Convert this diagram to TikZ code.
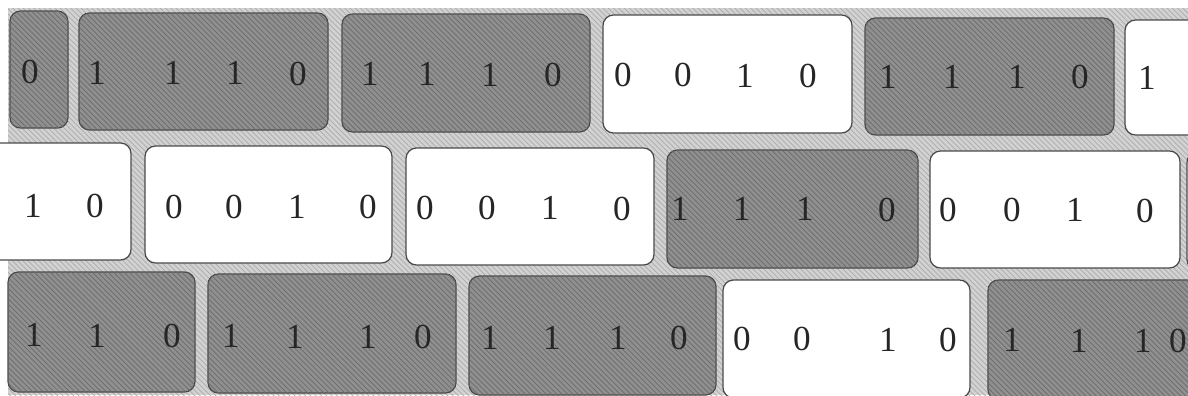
\documentclass[tikz,border=0pt]{standalone}
\usepackage{fontspec}
\setmainfont{Liberation Serif}
\usetikzlibrary{patterns}
\definecolor{bandgray}{HTML}{D2D2D2}
\definecolor{bandline}{HTML}{ABABAB}
\definecolor{cellgray}{HTML}{909090}
\definecolor{cellline}{HTML}{6A6A6A}
\definecolor{edgegray}{HTML}{4A4A4A}
\begin{document}
\begin{tikzpicture}[x=0.02cm,y=-0.02cm,
  band/.style={fill=bandgray,postaction={pattern=north west lines,pattern color=bandline}},
  darkcell/.style={draw=edgegray,line width=0.7pt,rounded corners=6pt,fill=cellgray,
    postaction={pattern=north west lines,pattern color=cellline}},
  whitecell/.style={draw=edgegray,line width=0.7pt,rounded corners=6pt,fill=white},
  digit/.style={inner sep=0pt,font=\fontsize{20}{22}\selectfont,text=black!85}]
  \useasboundingbox (0,0) rectangle (1188,396);
  \clip (0,0) rectangle (1188,396);
  \fill[band] (8,8) rectangle (1200,395);
  % top row
  \foreach \xa/\ya/\xb/\yb/\kind in {10/11/68/128/darkcell, 79/13/328/130/darkcell,
      342/14/590/132/darkcell, 603/15/852/133/whitecell, 865/18/1114/135/darkcell,
      1125/20/1220/135/whitecell}
    \draw[\kind] (\xa,\ya) rectangle (\xb,\yb);
  \foreach \x/\d [count=\i] in {30/0, 97/1, 173/1, 235/1, 298/0, 370/1, 427/1, 490/1, 553/0,
      623/0, 683/0, 745/1, 808/0, 888/1, 952/1, 1017/1, 1080/0, 1147/1}
    \node[digit] (t\i) at (\x,{72+0.005*\x}) {\d};
  % middle row
  \foreach \xa/\ya/\xb/\yb/\kind in {-30/143/131/260/whitecell, 145/146/392/263/whitecell,
      406/148/654/265/whitecell, 667/150/918/268/darkcell, 930/151/1180/268/whitecell,
      1187/152/1260/270/whitecell}
    \draw[\kind] (\xa,\ya) rectangle (\xb,\yb);
  \foreach \x/\d [count=\i] in {33/1, 95/0, 174/0, 234/0, 297/1, 368/0, 425/0, 487/0, 550/1, 622/0,
      680/1, 742/1, 805/1, 887/0, 948/0, 1012/0, 1075/1, 1145/0}
    \node[digit] (m\i) at (\x,{206+0.004*\x}) {\d};
  % bottom row
  \foreach \xa/\ya/\xb/\yb/\kind in {8/272/195/392/darkcell, 208/274/456/393/darkcell,
      469/276/716/395/darkcell, 723/280/970/398/whitecell, 988/280/1240/400/darkcell}
    \draw[\kind] (\xa,\ya) rectangle (\xb,\yb);
  \foreach \x/\d [count=\i] in {34/1, 97/1, 172/0, 231/1, 295/1, 368/1, 423/0, 490/1, 552/1,
      618/1, 679/0, 742/0, 802/0, 888/1, 948/0, 1012/1, 1079/1, 1143/1, 1178/0}
    \node[digit] (b\i) at (\x,{335+0.005*\x}) {\d};
\end{tikzpicture}
\end{document}
